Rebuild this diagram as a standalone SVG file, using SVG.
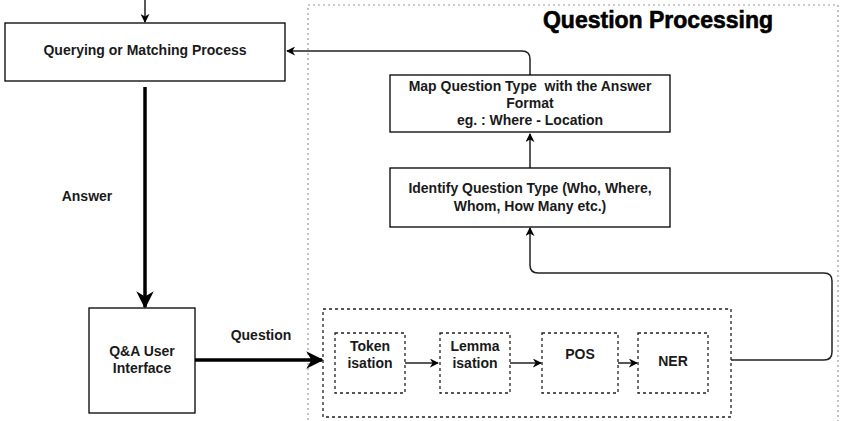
<svg xmlns="http://www.w3.org/2000/svg" width="847" height="421" viewBox="0 0 847 421">
<style>
.box{fill:#fff;stroke:#000;stroke-width:1.3}
.dbox{fill:#fff;stroke:#222;stroke-width:1.3;stroke-dasharray:3,3}
.t{font-family:"Liberation Sans",Arial,sans-serif;font-weight:bold;font-size:14px;fill:#1a1a1a;text-anchor:middle;dominant-baseline:central}
.c{fill:none;stroke:#222;stroke-width:1.5}
.thick{fill:none;stroke:#000;stroke-width:3.5}
</style>
<defs>
<marker id="ah" viewBox="0 0 10 10" refX="9" refY="5" markerWidth="9" markerHeight="9" markerUnits="userSpaceOnUse" orient="auto"><path d="M0,0 L10,5 L0,10 L3,5 Z" fill="#000"/></marker>
<marker id="ahb" viewBox="0 0 10 10" refX="9" refY="5" markerWidth="5" markerHeight="5" orient="auto"><path d="M0,0 L10,5 L0,10 L3,5 Z" fill="#000"/></marker>
</defs>
<rect x="0" y="0" width="847" height="421" fill="#fff"/>
<g id="question-processing">
<rect x="308" y="5" width="530" height="430" fill="none" stroke="#999" stroke-width="1.2" stroke-dasharray="2,3"/>
<text x="658" y="20" font-family="Liberation Sans,Arial,sans-serif" font-weight="bold" font-size="23" text-anchor="middle" dominant-baseline="central" fill="#000" stroke="#000" stroke-width="0.6">Question Processing</text>
</g>
<g id="preprocess">
<rect class="dbox" x="323" y="309" width="408" height="108"/>
</g>
<g id="connectors">
<line class="c" x1="145" y1="0" x2="145" y2="22" marker-end="url(#ah)"/>
<path class="c" d="M530,75 V59 Q530,51 522,51 H287" marker-end="url(#ah)"/>
<line class="c" x1="530" y1="168" x2="530" y2="134" marker-end="url(#ah)"/>
<path class="c" d="M731,360 H824 Q832,360 832,352 V281 Q832,273 824,273 H538 Q530,273 530,265 V228" marker-end="url(#ah)"/>
<line class="c" x1="405" y1="363" x2="438" y2="363" marker-end="url(#ah)"/>
<line class="c" x1="510" y1="363" x2="541" y2="363" marker-end="url(#ah)"/>
<line class="c" x1="618" y1="363" x2="637" y2="363" marker-end="url(#ah)"/>
<line class="thick" x1="145" y1="87" x2="145" y2="307" marker-end="url(#ahb)"/>
<line class="thick" x1="195" y1="360" x2="322" y2="360" marker-end="url(#ahb)"/>
<text class="t" x="87" y="196">Answer</text>
<text class="t" x="261" y="335">Question</text>
</g>
<g id="querying">
<rect class="box" x="5" y="23" width="280" height="58"/>
<text class="t" x="145" y="50">Querying or Matching Process</text>
</g>
<g id="map">
<rect class="box" x="390" y="75" width="280" height="57"/>
<text class="t" x="530" y="86" xml:space="preserve">Map Question Type  with the Answer</text>
<text class="t" x="530" y="103">Format</text>
<text class="t" x="530" y="120">eg. : Where - Location</text>
</g>
<g id="identify">
<rect class="box" x="390" y="168" width="280" height="59"/>
<text class="t" x="530" y="188">Identify Question Type (Who, Where,</text>
<text class="t" x="530" y="206">Whom, How Many etc.)</text>
</g>
<g id="qa">
<rect class="box" x="89" y="308" width="106" height="105"/>
<text class="t" x="142" y="351">Q&amp;A User</text>
<text class="t" x="142" y="368">Interface</text>
</g>
<g id="token">
<rect class="dbox" x="335" y="333" width="70" height="60"/>
<text class="t" x="370" y="346">Token</text>
<text class="t" x="370" y="363">isation</text>
</g>
<g id="lemma">
<rect class="dbox" x="440" y="333" width="70" height="60"/>
<text class="t" x="475" y="346">Lemma</text>
<text class="t" x="475" y="363">isation</text>
</g>
<g id="pos">
<rect class="dbox" x="542" y="333" width="76" height="60"/>
<text class="t" x="580" y="354">POS</text>
</g>
<g id="ner">
<rect class="dbox" x="638" y="333" width="70" height="60"/>
<text class="t" x="673" y="361">NER</text>
</g>
</svg>
